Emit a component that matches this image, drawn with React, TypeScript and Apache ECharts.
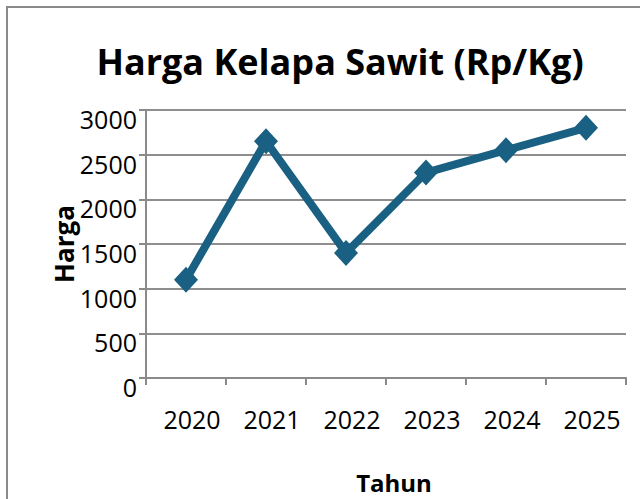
import React, { useEffect, useRef } from "react";
import * as echarts from "echarts";

const categories = ["2020", "2021", "2022", "2023", "2024", "2025"];
const hargaValues = [1100, 2650, 1400, 2300, 2550, 2800];
const titleText = "Harga Kelapa Sawit (Rp/Kg)";
const xAxisName = "Tahun";
const yAxisName = "Harga";

export default function App() {
  const ref = useRef<HTMLDivElement>(null);
  useEffect(() => {
    if (!ref.current) return;
    const chart = echarts.init(ref.current, undefined, { renderer: "svg" });
    const font = "'Open Sans', sans-serif";
    chart.setOption({
      animation: false,
      backgroundColor: "#ffffff",
      textStyle: { fontFamily: font },
      title: {
        text: titleText,
        left: 335,
        top: 38,
        textAlign: "center",
        textStyle: { fontFamily: font, fontSize: 36, fontWeight: "bold", color: "#000" },
      },
      graphic: [
        {
          type: "rect",
          shape: { x: 7, y: 7, width: 700, height: 600 },
          style: { fill: "none", stroke: "#8a8a8a", lineWidth: 2 },
          silent: true,
        },
      ],
      grid: { left: 146, right: 14, top: 110, bottom: 121, containLabel: false },
      xAxis: {
        type: "category",
        data: categories,
        boundaryGap: true,
        name: xAxisName,
        nameLocation: "middle",
        nameGap: 92,
        nameMoveOverlap: false,
        nameTextStyle: { fontFamily: font, fontSize: 24, fontWeight: "bold", color: "#000", padding: [0, 0, 0, 16] },
        axisLine: { lineStyle: { color: "#8a8a8a", width: 2 } },
        axisTick: { show: true, alignWithLabel: false, length: 7, lineStyle: { color: "#8a8a8a", width: 2 } },
        axisLabel: { fontFamily: font, fontSize: 25, color: "#000", margin: 28, padding: [0, 0, 0, 12] },
        splitLine: { show: false },
      },
      yAxis: {
        type: "value",
        min: 0,
        max: 3000,
        interval: 500,
        name: yAxisName,
        nameLocation: "middle",
        nameGap: 69,
        nameMoveOverlap: false,
        nameRotate: 90,
        nameTextStyle: { fontFamily: font, fontSize: 26, fontWeight: "bold", color: "#000" },
        axisLine: { show: true, lineStyle: { color: "#8a8a8a", width: 2 } },
        axisTick: { show: true, length: 7, lineStyle: { color: "#8a8a8a", width: 2 } },
        axisLabel: {
          fontFamily: font,
          fontSize: 25,
          color: "#000",
          margin: 9,
          verticalAlign: "top",
          lineHeight: 18,
          formatter: (v: number) => String(v),
        },
        splitLine: { show: true, lineStyle: { color: "#8e8e8e", width: 2 } },
      },
      series: [
        {
          type: "line",
          data: hargaValues,
          symbol: "diamond",
          symbolSize: [24, 26],
          lineStyle: { color: "#1a6083", width: 8 },
          itemStyle: { color: "#1a6083" },
        },
      ],
    });
    return () => chart.dispose();
  }, []);
  return (
    <div
      ref={ref}
      style={{ position: "fixed", left: 0, top: 0, width: 640, height: 499 }}
    />
  );
}
